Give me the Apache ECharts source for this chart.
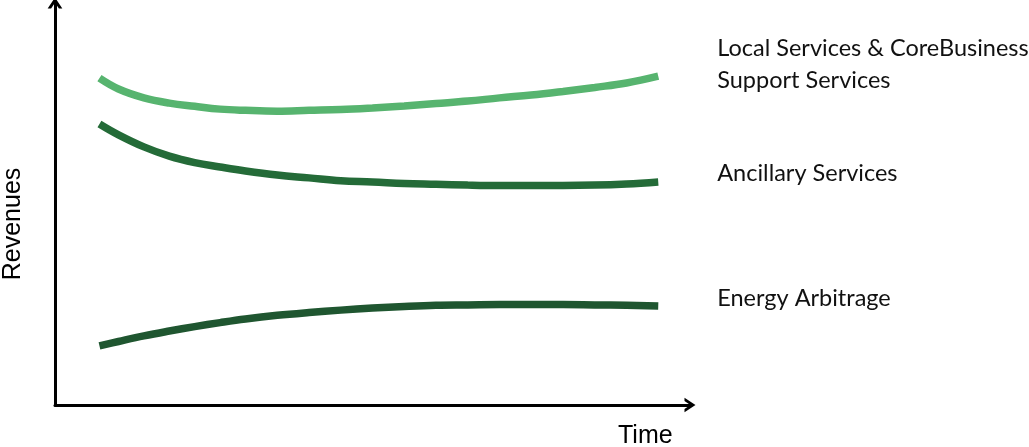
<!DOCTYPE html>
<html>
<head>
<meta charset="utf-8">
<script src="https://cdn.jsdelivr.net/npm/echarts@6/dist/echarts.min.js"></script>
<style>
  html, body { margin: 0; padding: 0; background: #fff; }
  #main { width: 1029px; height: 447px; }
</style>
</head>
<body>
<div id="main"></div>
<script>
// 时间轴（相对单位）
var times = [7, 10, 14, 18, 22, 26, 30, 35, 40, 45, 50, 55, 60, 65, 70, 75, 80, 85, 90, 95];
// 各类收入曲线（相对单位）
var localServices = [81.3, 78.6, 76.4, 75.1, 74.3, 73.6, 73.3, 73.1, 73.3, 73.5, 73.9, 74.4, 75.0, 75.6, 76.4, 77.1, 78.0, 79.0, 80.1, 81.8];
var ancillary = [69.9, 67.2, 64.2, 61.9, 60.3, 59.2, 58.2, 57.2, 56.5, 55.8, 55.5, 55.1, 54.9, 54.7, 54.6, 54.6, 54.6, 54.7, 55.0, 55.5];
var energyArb = [14.7, 15.8, 17.2, 18.4, 19.5, 20.5, 21.4, 22.3, 23.0, 23.6, 24.1, 24.5, 24.8, 24.9, 25.0, 25.0, 25.0, 24.9, 24.8, 24.6];

var seriesNames = ['Local Services & CoreBusiness\nSupport Services', 'Ancillary Services', 'Energy Arbitrage'];

function pairs(vals){
	var out = [];
	for (var i = 0; i < times.length; i++) {
		out.push([times[i], vals[i]]);
	}
	return out;
}

var labelFont = 'Lato, "Open Sans", sans-serif';
var axisFont = '"Liberation Sans", sans-serif';
// 空心箭头
var arrow = 'path://M0,9 L6,0 L12,9 L9.2,9 L6,4.2 L2.8,9 Z';

function lineSeries(name, vals, color, offY){
	return {
		name: name,
		type: 'line',
		smooth: 0.4,
		showSymbol: false,
		data: pairs(vals),
		lineStyle: { color: color, width: 7.5, cap: 'butt' },
		endLabel: {
			show: true,
			formatter: '{a}',
			distance: 0,
			offset: [59, offY],
			color: '#111',
			fontFamily: labelFont,
			fontSize: 23.5,
			lineHeight: 32,
			align: 'left'
		}
	};
}

var axisLine = {
	show: true,
	lineStyle: { color: '#000', width: 3 },
	symbol: ['none', arrow],
	symbolSize: [16, 11]
};

var myChart = echarts.init(document.getElementById('main'));
var option = {
	animation: false,
	grid: { left: 55, right: 339, top: 3, bottom: 42, outerBoundsMode: 'none' },
	xAxis: {
		type: 'value',
		min: 0,
		max: 100,
		name: 'Time',
		nameLocation: 'end',
		nameGap: -72,
		nameTextStyle: {
			color: '#000',
			fontFamily: axisFont,
			fontSize: 25,
			verticalAlign: 'top',
			padding: [19, 0, 0, 0]
		},
		axisLine: axisLine,
		axisTick: { show: false },
		axisLabel: { show: false },
		splitLine: { show: false }
	},
	yAxis: {
		type: 'value',
		min: 0,
		max: 100,
		name: 'Revenues',
		nameLocation: 'middle',
		nameRotate: 90,
		nameGap: 29,
		nameTextStyle: {
			color: '#000',
			fontFamily: axisFont,
			fontSize: 25,
			padding: [0, 40, 0, 0]
		},
		axisLine: axisLine,
		axisTick: { show: false },
		axisLabel: { show: false },
		splitLine: { show: false }
	},
	series: [
		lineSeries(seriesNames[0], localServices, '#57b46f', -12),
		lineSeries(seriesNames[1], ancillary, '#246b38', -8),
		lineSeries(seriesNames[2], energyArb, '#1f5630', -8)
	]
};
myChart.setOption(option);
</script>
</body>
</html>
